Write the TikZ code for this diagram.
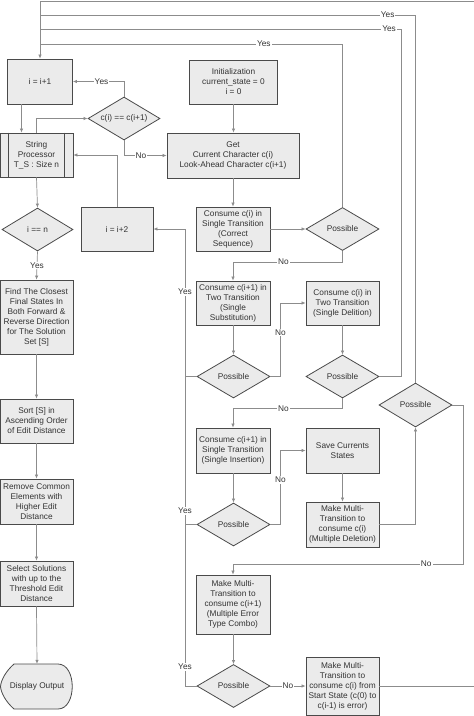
\documentclass[tikz,border=0pt]{standalone}
\usepackage{fontspec}
\setmainfont{Liberation Sans}
\usetikzlibrary{arrows.meta,shapes.geometric,calc}
\definecolor{boxline}{HTML}{4A4A4A}
\definecolor{boxfill}{HTML}{EBEBEB}
\definecolor{wire}{HTML}{8C8C8C}
\definecolor{txt}{HTML}{333333}

\begin{document}
\begin{tikzpicture}[x=1pt,y=-1pt,
  every node/.style={font=\fontsize{8.3}{10}\selectfont,text=txt},
  box/.style={draw=boxline,fill=boxfill,line width=0.8pt,minimum width=73pt,minimum height=44pt,align=center,inner sep=1pt},
  dec/.style={diamond,draw=boxline,fill=boxfill,line width=0.8pt,minimum width=73pt,minimum height=43pt,inner sep=0pt,aspect=1.7},
  flow/.style={draw=wire,line width=0.7pt},
  arr/.style={flow,-{Latex[length=4pt,width=3.5pt]}},
  lab/.style={fill=white,inner sep=1pt},
]
  \useasboundingbox (0,0) rectangle (474,716);

  % left column
  \node[box,minimum width=65pt,minimum height=45pt] (inc1) at (40,81.5) {i = i+1};
  \node[dec,minimum width=72pt] (dup) at (124,118.5) {c(i) == c(i+1)};
  \node[box] (sp) at (36.5,155) {String\\Processor\\T\_S : Size n};
  \draw[draw=boxline,line width=0.8pt] ([xshift=9pt]sp.north west) -- ([xshift=9pt]sp.south west);
  \draw[draw=boxline,line width=0.8pt] ([xshift=-9pt]sp.north east) -- ([xshift=-9pt]sp.south east);
  \node[dec,minimum width=71pt] (eqn) at (37.5,229.5) {i == n};
  \node[box,minimum width=72pt] (inc2) at (117,229) {i = i+2};
  \node[box,minimum height=74pt] (find) at (36.5,317) {Find The Closest\\Final States In\\Both Forward \&\\Reverse Direction\\for The Solution\\Set [S]};
  \node[box] (sort) at (36.5,421) {Sort [S] in\\Ascending Order\\of Edit Distance};
  \node[box,minimum height=45pt] (remove) at (36.5,501.5) {Remove Common\\Elements with\\Higher Edit\\Distance};
  \node[box,minimum height=45pt] (select) at (36.5,583.5) {Select Solutions\\with up to the\\Threshold Edit\\Distance};
  \draw[draw=boxline,fill=boxfill,line width=0.8pt] (14,664) -- (58,664)
    .. controls (77,664) and (77,709) .. (58,709) -- (14,709)
    .. controls (6,702) and (1,693) .. (0.5,686.5)
    .. controls (1,680) and (6,671) .. (14,664) -- cycle;
  \node[minimum height=45pt,inner sep=0pt] (disp) at (37,686.5) {Display Output};

  % middle and right columns
  \node[box,minimum width=88pt] (init) at (233.5,82) {Initialization\\current\_state = 0\\i = 0};
  \node[box,minimum width=132pt,minimum height=45pt] (get) at (233,155.5) {Get\\Current Character c(i)\\Look-Ahead Character c(i+1)};
  \node[box,minimum width=74pt] (cons) at (233,229) {Consume c(i) in\\Single Transition\\(Correct\\Sequence)};
  \node[dec] (pos1) at (342.5,229) {Possible};
  \node[box,minimum width=74pt] (sub) at (233,303) {Consume c(i+1) in\\Two Transition\\(Single\\Substitution)};
  \node[box] (del) at (342.5,303) {Consume c(i) in\\Two Transition\\(Single Delition)};
  \node[dec] (pos2) at (233.5,376.5) {Possible};
  \node[dec] (pos3) at (342.5,376.5) {Possible};
  \node[dec,minimum height=44pt] (pos5) at (415.5,405) {Possible};
  \node[box,minimum width=74pt,minimum height=45pt] (ins) at (233,450.5) {Consume c(i+1) in\\Single Transition\\(Single Insertion)};
  \node[box,minimum height=45pt] (save) at (342.5,450.5) {Save Currents\\States};
  \node[dec] (pos4) at (233.5,524.5) {Possible};
  \node[box,minimum height=45pt] (mdel) at (342.5,524.5) {Make Multi-\\Transition to\\consume c(i)\\(Multiple Deletion)};
  \node[box,minimum width=74pt,minimum height=59pt] (combo) at (233,604.5) {Make Multi-\\Transition to\\consume c(i+1)\\(Multiple Error\\Type Combo)};
  \node[dec] (pos6) at (233.5,686) {Possible};
  \node[box,minimum height=58pt] (last) at (342.5,686) {Make Multi-\\Transition to\\consume c(i) from\\Start State (c(0) to\\c(i-1) is error)};

  % junctions
  \coordinate (jtop) at (40,1.5);
  \coordinate (ja) at (40,15);
  \coordinate (jb) at (40,29);
  \coordinate (jc) at (40,44);
  \coordinate (rail) at (185,229);
  \coordinate (jno) at (463,564);

  % connectors
  \draw[arr] (last.east) -- ++(130,0) |- (jtop) -- (inc1.north);
  \draw[flow] (pos5.north) |- node[lab,pos=0.537]{Yes} (ja);
  \draw[flow] (pos3.east) -- ++(22,0) |- node[lab,pos=0.517]{Yes} (jb);
  \draw[flow] (pos1.north) |- node[lab,pos=0.63]{Yes} (jc);
  \draw[arr] ([xshift=-18.5pt]inc1.south) -- ([xshift=-18.5pt]inc1.south |- sp.north);
  \draw[arr] (sp.north) |- (dup.west);
  \draw[arr] (dup.north) |- node[lab,pos=0.72]{Yes} (inc1.east);
  \draw[arr] (dup.south) |- node[lab,pos=0.7]{No} (get.west);
  \draw[arr] (inc2.north) |- (sp.east);
  \draw[arr] (sp.south) -- (eqn.north);
  \draw[arr] (eqn.south) -- node[lab]{Yes} (find.north);
  \draw[arr] (find.south) -- (sort.north);
  \draw[arr] (sort.south) -- (remove.north);
  \draw[arr] (remove.south) -- (select.north);
  \draw[arr] (select.south) -- (disp.north);

  \draw[arr] (init.south) -- (init.south |- get.north);
  \draw[arr] (get.south -| cons.north) -- (cons.north);
  \draw[arr] (cons.east) -- (pos1.west);
  \draw[arr] (pos1.south) -- ++(0,11) -| node[lab,pos=0.27]{No} (sub.north);
  \draw[arr] (sub.south) -- (sub.south -| pos2.north) -- (pos2.north);
  \draw[arr] (pos2.east) -- ++(10,0) |- node[lab,pos=0.3]{No} (del.west);
  \draw[arr] (del.south) -- (pos3.north);
  \draw[arr] (pos3.south) -- ++(0,10) -| node[lab,pos=0.27]{No} (ins.north);
  \draw[arr] (ins.south) -- (ins.south -| pos4.north) -- (pos4.north);
  \draw[arr] (pos4.east) -- ++(10,0) |- node[lab,pos=0.3]{No} (save.west);
  \draw[arr] (save.south) -- (mdel.north);
  \draw[arr] (mdel.east) -| (pos5.south);
  \draw[arr] (pos5.east) -| (jno) -| node[lab,pos=0.08]{No} (combo.north);
  \draw[arr] (combo.south) -- (combo.south -| pos6.north) -- (pos6.north);
  \draw[arr] (pos6.east) -- node[lab]{No} (last.west);

  \draw[flow] (pos2.west) -- (pos2.west -| rail);
  \draw[flow] (pos4.west) -- (pos4.west -| rail);
  \draw[arr] (pos6.west) -| (rail) -- (inc2.east);
  \node[lab] (yes2) at (185,292) {Yes};
  \node[lab] (yes4) at (185,511) {Yes};
  \node[lab] (yes6) at (185,667) {Yes};
\end{tikzpicture}
\end{document}
